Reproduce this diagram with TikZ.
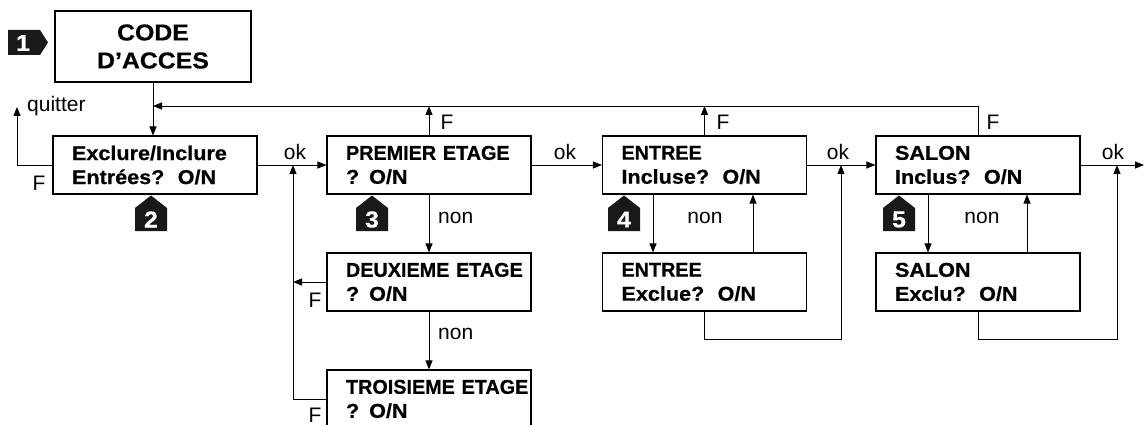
\documentclass[tikz,border=0pt]{standalone}
\usepackage{fontspec}
\setmainfont{Liberation Sans}
\newfontfamily\bxfont{Liberation Sans}[FakeStretch=1.08,FakeBold=0.6]
\newfontfamily\ucfont{Liberation Sans}[FakeStretch=0.99,FakeBold=0.6]
\usetikzlibrary{arrows.meta}
\begin{document}
\begin{tikzpicture}[x=1pt,y=-1pt,
  box/.style={draw, line width=1.1pt, minimum width=204pt, minimum height=58pt,
    inner sep=0pt, inner xsep=19pt, text width=166pt, align=left,
    font=\bxfont\bfseries\fontsize{20}{24}\selectfont},
  codebox/.style={draw, line width=1.1pt, minimum width=196pt, minimum height=71pt,
    inner sep=0pt, align=center, font=\bxfont\bfseries\fontsize{23}{28}\selectfont},
  arr/.style={-{Triangle[length=9pt,width=7pt]}, line width=0.9pt},
  lab/.style={inner sep=0pt, font=\fontsize{21}{22}\selectfont},
  badge/.style={fill=black!90},
  badgetxt/.style={inner sep=0pt, text=white, font=\bxfont\bfseries\fontsize{23}{23}\selectfont}
]
\useasboundingbox (0,0) rectangle (1144,425);
\clip (0,0) rectangle (1144,425);

% boxes
\node[codebox] (code) at (153,46.5) {CODE\\D’ACCES};
\node[box] (ex) at (155,165) {\mbox{Exclure/Inclure}\\\mbox{Entrées?\ \ O/N}};
\node[box] (pe) at (429,165) {\mbox{\ucfont PREMIER ETAGE}\\\mbox{? O/N}};
\node[box] (de) at (429,282) {\mbox{\ucfont DEUXIEME ETAGE}\\\mbox{? O/N}};
\node[box] (tr) at (429,399) {\mbox{\ucfont TROISIEME ETAGE}\\\mbox{? O/N}};
\node[box] (en) at (704.5,165) {\mbox{\ucfont ENTREE}\\\mbox{Incluse?\ \ O/N}};
\node[box] (enx) at (704.5,282) {\mbox{\ucfont ENTREE}\\\mbox{Exclue?\ \ O/N}};
\node[box] (sa) at (978,165) {\mbox{SALON}\\\mbox{Inclus?\ \ O/N}};
\node[box] (sax) at (978,282) {\mbox{SALON}\\\mbox{Exclu?\ \ O/N}};

% helper coordinates
\coordinate (topy) at (0,106);
\coordinate (q) at (17,107);
\coordinate (lv) at (293,165);
\coordinate (ev) at (841,165);
\coordinate (sv) at (1117,165);
\coordinate (rend) at (1144,165);

% connectors
\draw[arr] (code.south) -- (code.south |- ex.north);
\draw[arr] (sa.north) |- (code.south |- topy);
\draw[arr] (pe.north) -- (pe.north |- topy);
\draw[arr] (en.north) -- (en.north |- topy);
\draw[arr] (ex.west) -| (q);
\draw[arr] (ex.east) -- (pe.west);
\draw[arr] (tr.west) -| (lv);
\draw[arr] (de.west) -- (de.west -| lv);
\draw[arr] (pe.south) -- (de.north);
\draw[arr] (de.south) -- (tr.north);
\draw[arr] (pe.east) -- (en.west);
\draw[arr] (en.east) -- (sa.west);
\draw[arr] (sa.east) -- (rend);
\draw[arr] ([xshift=-51.5pt]en.south) -- ([xshift=-51.5pt]enx.north);
\draw[arr] ([xshift=48.5pt]enx.north) -- ([xshift=48.5pt]en.south);
\draw[arr] (enx.south) -- ++(0,28) -| (ev);
\draw[arr] ([xshift=-50pt]sa.south) -- ([xshift=-50pt]sax.north);
\draw[arr] ([xshift=49pt]sax.north) -- ([xshift=49pt]sa.south);
\draw[arr] (sax.south) -- ++(0,28) -| (sv);

% labels
\node[lab, anchor=west] (lq) at (27,106) {quitter};
\node[lab] (lf1) at (39,183) {F};
\node[lab] (lok1) at (295,152) {ok};
\node[lab] (lf2) at (447,122) {F};
\node[lab, anchor=west] (ln1) at (438,218) {non};
\node[lab] (lf3) at (315,300) {F};
\node[lab, anchor=west] (ln2) at (438,334) {non};
\node[lab] (lf4) at (315,415) {F};
\node[lab] (lok2) at (565,152) {ok};
\node[lab] (lf5) at (723,122) {F};
\node[lab] (ln3) at (705,218) {non};
\node[lab] (lok3) at (838,152) {ok};
\node[lab] (lf6) at (993,122) {F};
\node[lab] (ln4) at (982,218) {non};
\node[lab] (lok4) at (1113,152) {ok};

% badges
\fill[badge] (8,30) -- (40,30) -- (48,42.5) -- (40,55) -- (8,55) -- cycle;
\node[badgetxt] (b1) at (23,43) {1};
\foreach \c/\n/\t in {151/b2/2, 372/b3/3, 624/b4/4, 899/b5/5}{
  \fill[badge] (\c-16,231) -- (\c-16,208) -- (\c,195.5) -- (\c+16,208) -- (\c+16,231) -- cycle;
  \node[badgetxt] (\n) at (\c,219.5) {\t};
}
\end{tikzpicture}
\end{document}
